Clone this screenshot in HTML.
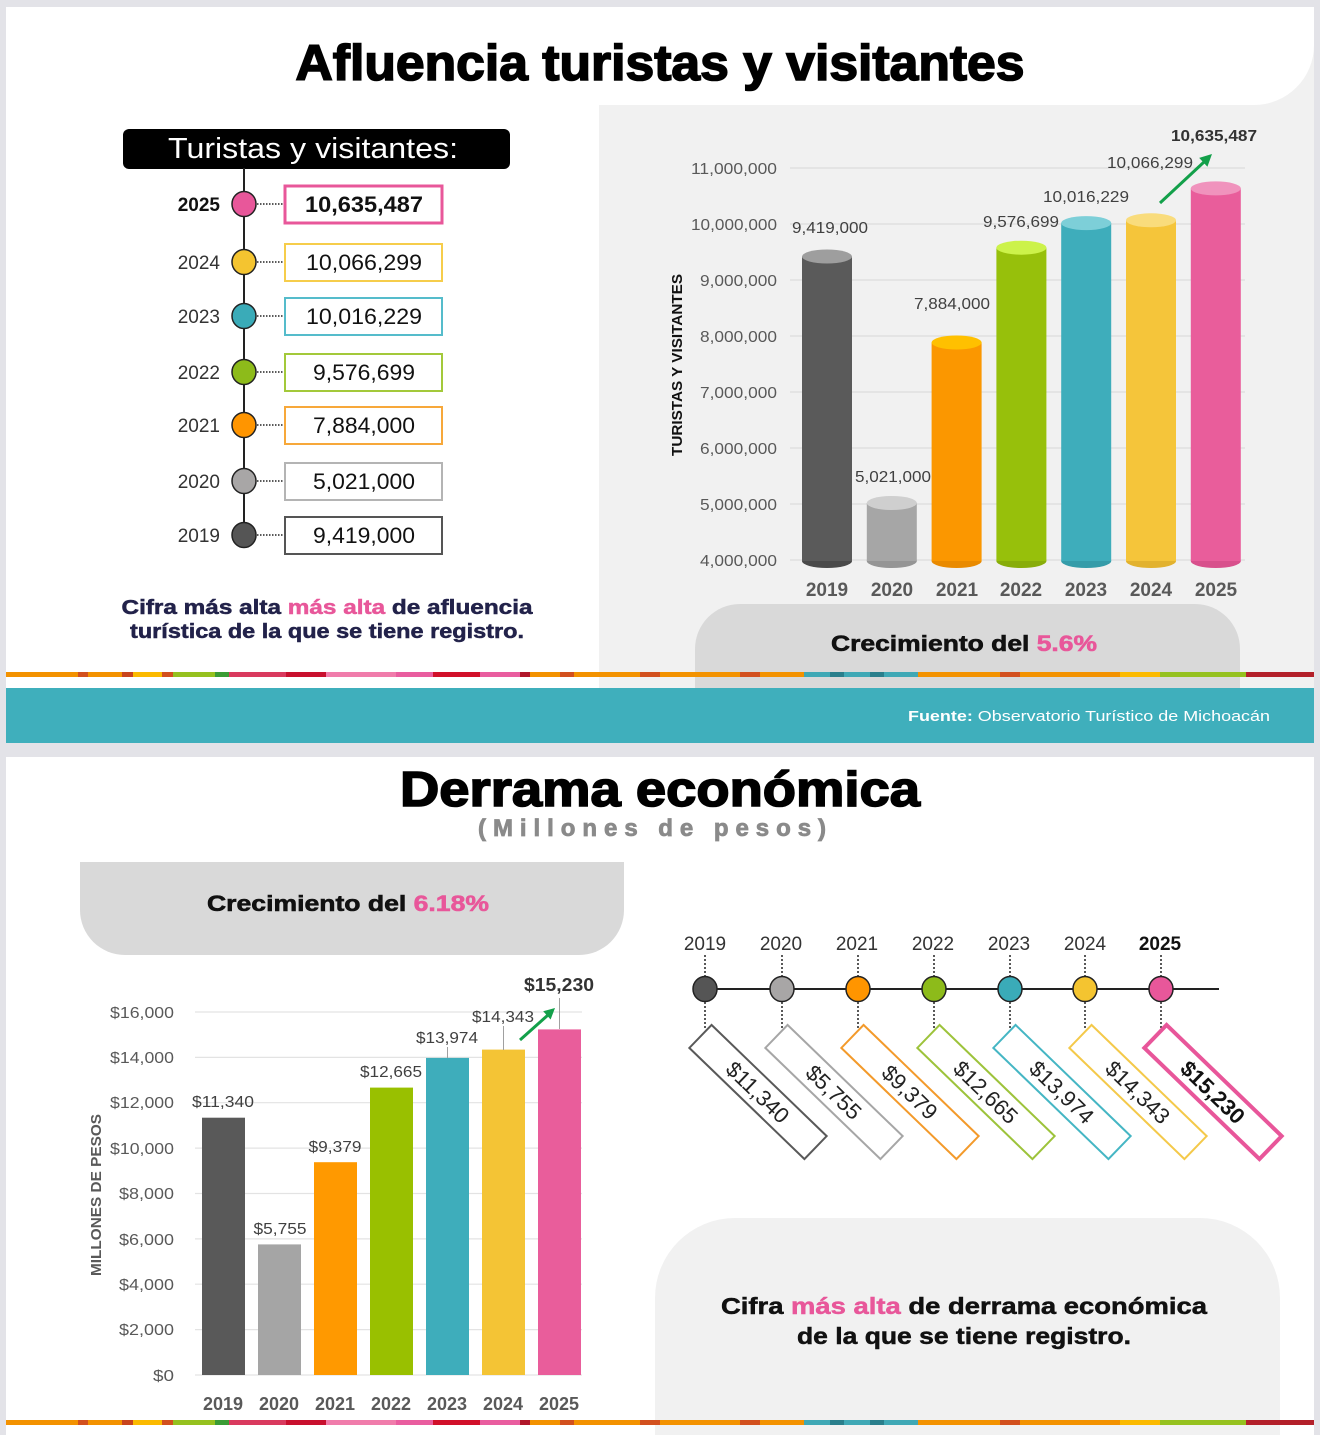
<!DOCTYPE html>
<html><head><meta charset="utf-8">
<style>
html,body{margin:0;padding:0;background:#e3e3e8;}
svg{display:block;}
text{font-family:"Liberation Sans",sans-serif;}
</style></head>
<body>
<svg width="1320" height="1435" viewBox="0 0 1320 1435" xmlns="http://www.w3.org/2000/svg">
<defs>
  <g id="stripe">
    <rect x="6" y="0" width="1308" height="5" fill="#f39200"/>
    <rect x="78" y="0" width="10" height="5" fill="#d2501e"/>
    <rect x="122" y="0" width="11" height="5" fill="#c8441d"/>
    <rect x="133" y="0" width="29" height="5" fill="#fbba00"/>
    <rect x="162" y="0" width="11" height="5" fill="#d2501e"/>
    <rect x="173" y="0" width="42" height="5" fill="#95c11f"/>
    <rect x="215" y="0" width="14" height="5" fill="#3a9b35"/>
    <rect x="229" y="0" width="57" height="5" fill="#d93a5e"/>
    <rect x="286" y="0" width="40" height="5" fill="#c8102e"/>
    <rect x="326" y="0" width="70" height="5" fill="#f07cab"/>
    <rect x="396" y="0" width="37" height="5" fill="#e95d9f"/>
    <rect x="433" y="0" width="47" height="5" fill="#d1102a"/>
    <rect x="480" y="0" width="40" height="5" fill="#e95d9f"/>
    <rect x="520" y="0" width="10" height="5" fill="#b0172a"/>
    <rect x="560" y="0" width="14" height="5" fill="#d2501e"/>
    <rect x="640" y="0" width="20" height="5" fill="#d2501e"/>
    <rect x="740" y="0" width="20" height="5" fill="#d2501e"/>
    <rect x="804" y="0" width="114" height="5" fill="#3fa8b5"/>
    <rect x="830" y="0" width="14" height="5" fill="#2a7f8c"/>
    <rect x="870" y="0" width="14" height="5" fill="#2a7f8c"/>
    <rect x="1000" y="0" width="20" height="5" fill="#d2501e"/>
    <rect x="1120" y="0" width="40" height="5" fill="#fbba00"/>
    <rect x="1160" y="0" width="86" height="5" fill="#95c11f"/>
    <rect x="1246" y="0" width="68" height="5" fill="#b3202a"/>
  </g>
</defs>

<!-- ===== TOP CARD ===== -->
<rect x="6" y="7" width="1308" height="736" fill="#ffffff"/>
<rect x="599" y="40" width="715" height="648" fill="#f1f1f1"/>
<path d="M599 7 H1314 V45 A60 60 0 0 1 1254 105 H599 Z" fill="#ffffff"/>

<text x="660" y="80" text-anchor="middle" font-size="50" font-weight="bold" fill="#000" stroke="#000" stroke-width="1.6" textLength="729" lengthAdjust="spacingAndGlyphs">Afluencia turistas y visitantes</text>

<!-- Left timeline -->
<rect x="123" y="129" width="387" height="40" rx="6" fill="#000"/>
<text x="313" y="158" text-anchor="middle" font-size="29" fill="#fff" textLength="290" lengthAdjust="spacingAndGlyphs">Turistas y visitantes:</text>
<line x1="244" y1="168" x2="244" y2="535" stroke="#222" stroke-width="2"/>

<g stroke="#222" stroke-width="1.5" stroke-dasharray="1.5 1.5">
  <line x1="257" y1="204" x2="284" y2="204"/>
  <line x1="257" y1="262" x2="284" y2="262"/>
  <line x1="257" y1="316" x2="284" y2="316"/>
  <line x1="257" y1="372" x2="284" y2="372"/>
  <line x1="257" y1="425" x2="284" y2="425"/>
  <line x1="257" y1="481" x2="284" y2="481"/>
  <line x1="257" y1="535" x2="284" y2="535"/>
</g>
<g stroke="#222" stroke-width="1.5">
  <ellipse cx="244" cy="204" rx="12" ry="12.5" fill="#e8579a"/>
  <ellipse cx="244" cy="262" rx="12" ry="12.5" fill="#f4c430"/>
  <ellipse cx="244" cy="316" rx="12" ry="12.5" fill="#3aabb8"/>
  <ellipse cx="244" cy="372" rx="12" ry="12.5" fill="#8dbb1a"/>
  <ellipse cx="244" cy="425" rx="12" ry="12.5" fill="#ff9500"/>
  <ellipse cx="244" cy="481" rx="12" ry="12.5" fill="#a8a6a6"/>
  <ellipse cx="244" cy="535" rx="12" ry="12.5" fill="#555555"/>
</g>
<g font-size="19" fill="#333" text-anchor="end">
  <text x="220" y="211" font-weight="bold" fill="#111">2025</text>
  <text x="220" y="269">2024</text>
  <text x="220" y="323">2023</text>
  <text x="220" y="379">2022</text>
  <text x="220" y="432">2021</text>
  <text x="220" y="488">2020</text>
  <text x="220" y="542">2019</text>
</g>
<g fill="#fff">
  <rect x="285" y="186" width="157" height="37" stroke="#e8579a" stroke-width="3"/>
  <rect x="285" y="244" width="157" height="37" stroke="#f6cd4b" stroke-width="2"/>
  <rect x="285" y="298" width="157" height="37" stroke="#55bccb" stroke-width="2"/>
  <rect x="285" y="354" width="157" height="37" stroke="#a3c93a" stroke-width="2"/>
  <rect x="285" y="407" width="157" height="37" stroke="#f7a83a" stroke-width="2"/>
  <rect x="285" y="463" width="157" height="37" stroke="#b4b4b4" stroke-width="2"/>
  <rect x="285" y="517" width="157" height="37" stroke="#555555" stroke-width="2"/>
</g>
<g font-size="22" fill="#111" text-anchor="middle">
  <text x="364" y="212" font-weight="bold" textLength="118" lengthAdjust="spacingAndGlyphs">10,635,487</text>
  <text x="364" y="270" textLength="116" lengthAdjust="spacingAndGlyphs">10,066,299</text>
  <text x="364" y="324" textLength="116" lengthAdjust="spacingAndGlyphs">10,016,229</text>
  <text x="364" y="380" textLength="102" lengthAdjust="spacingAndGlyphs">9,576,699</text>
  <text x="364" y="433" textLength="102" lengthAdjust="spacingAndGlyphs">7,884,000</text>
  <text x="364" y="489" textLength="102" lengthAdjust="spacingAndGlyphs">5,021,000</text>
  <text x="364" y="543" textLength="102" lengthAdjust="spacingAndGlyphs">9,419,000</text>
</g>
<g stroke-width="0.5">
<text x="327" y="614" text-anchor="middle" font-size="20" font-weight="bold" fill="#22224a" stroke="#22224a" textLength="411" lengthAdjust="spacingAndGlyphs">Cifra más alta <tspan fill="#e8579a" stroke="#e8579a">más alta</tspan> de afluencia</text>
<text x="327" y="638" text-anchor="middle" font-size="20" font-weight="bold" fill="#22224a" stroke="#22224a" textLength="394" lengthAdjust="spacingAndGlyphs">turística de la que se tiene registro.</text>
</g>

<!-- Top chart -->
<g stroke="#dcdcdc" stroke-width="1.2">
  <line x1="790" y1="168" x2="1245" y2="168"/>
  <line x1="790" y1="224" x2="1245" y2="224"/>
  <line x1="790" y1="280" x2="1245" y2="280"/>
  <line x1="790" y1="336" x2="1245" y2="336"/>
  <line x1="790" y1="392" x2="1245" y2="392"/>
  <line x1="790" y1="448" x2="1245" y2="448"/>
  <line x1="790" y1="504" x2="1245" y2="504"/>
  <line x1="790" y1="560" x2="1245" y2="560"/>
</g>
<g font-size="16" fill="#595959" text-anchor="end">
  <text x="777" y="174" textLength="86" lengthAdjust="spacingAndGlyphs">11,000,000</text>
  <text x="777" y="230" textLength="86" lengthAdjust="spacingAndGlyphs">10,000,000</text>
  <text x="777" y="286" textLength="77" lengthAdjust="spacingAndGlyphs">9,000,000</text>
  <text x="777" y="342" textLength="77" lengthAdjust="spacingAndGlyphs">8,000,000</text>
  <text x="777" y="398" textLength="77" lengthAdjust="spacingAndGlyphs">7,000,000</text>
  <text x="777" y="454" textLength="77" lengthAdjust="spacingAndGlyphs">6,000,000</text>
  <text x="777" y="510" textLength="77" lengthAdjust="spacingAndGlyphs">5,000,000</text>
  <text x="777" y="566" textLength="77" lengthAdjust="spacingAndGlyphs">4,000,000</text>
</g>
<text transform="translate(682,365) rotate(-90)" text-anchor="middle" font-size="15" font-weight="bold" fill="#111" textLength="182" lengthAdjust="spacingAndGlyphs">TURISTAS Y VISITANTES</text>

<!-- cylinders -->
<g>
  <ellipse cx="827" cy="561" rx="25" ry="7" fill="#4a4a4a"/>
  <rect x="802" y="256.5" width="50" height="304.5" fill="#5a5a5a"/>
  <ellipse cx="827" cy="256.5" rx="25" ry="7" fill="#9e9e9e"/>

  <ellipse cx="891.8" cy="561" rx="25" ry="7" fill="#959595"/>
  <rect x="866.8" y="503" width="50" height="58" fill="#a6a6a6"/>
  <ellipse cx="891.8" cy="503" rx="25" ry="7" fill="#cfcfcf"/>

  <ellipse cx="956.6" cy="561" rx="25" ry="7" fill="#e98a00"/>
  <rect x="931.6" y="342.5" width="50" height="218.5" fill="#fb9700"/>
  <ellipse cx="956.6" cy="342.5" rx="25" ry="7" fill="#ffc000"/>

  <ellipse cx="1021.4" cy="561" rx="25" ry="7" fill="#88ad0a"/>
  <rect x="996.4" y="247.7" width="50" height="313.3" fill="#97c00b"/>
  <ellipse cx="1021.4" cy="247.7" rx="25" ry="7" fill="#ccf24a"/>

  <ellipse cx="1086.2" cy="561" rx="25" ry="7" fill="#359ca9"/>
  <rect x="1061.2" y="223.1" width="50" height="337.9" fill="#3eadbb"/>
  <ellipse cx="1086.2" cy="223.1" rx="25" ry="7" fill="#7dcfd8"/>

  <ellipse cx="1151" cy="561" rx="25" ry="7" fill="#e2b22f"/>
  <rect x="1126" y="220.3" width="50" height="340.7" fill="#f5c53a"/>
  <ellipse cx="1151" cy="220.3" rx="25" ry="7" fill="#f9dc7c"/>

  <ellipse cx="1215.8" cy="561" rx="25" ry="7" fill="#d8508c"/>
  <rect x="1190.8" y="188.4" width="50" height="372.6" fill="#e95d9b"/>
  <ellipse cx="1215.8" cy="188.4" rx="25" ry="7" fill="#f093bd"/>
</g>
<g font-size="16" fill="#404040" text-anchor="middle">
  <text x="830" y="233" textLength="76" lengthAdjust="spacingAndGlyphs">9,419,000</text>
  <text x="893" y="482" textLength="76" lengthAdjust="spacingAndGlyphs">5,021,000</text>
  <text x="952" y="309" textLength="76" lengthAdjust="spacingAndGlyphs">7,884,000</text>
  <text x="1021" y="227" textLength="76" lengthAdjust="spacingAndGlyphs">9,576,699</text>
  <text x="1086" y="202" textLength="86" lengthAdjust="spacingAndGlyphs">10,016,229</text>
  <text x="1150" y="168" textLength="86" lengthAdjust="spacingAndGlyphs">10,066,299</text>
  <text x="1214" y="141" font-weight="bold" fill="#333" textLength="86" lengthAdjust="spacingAndGlyphs">10,635,487</text>
</g>
<line x1="1160" y1="203" x2="1204" y2="162" stroke="#13a04a" stroke-width="3"/>
<polygon points="1212,154 1207.4,166.7 1199.2,157.9" fill="#13a04a"/>
<g font-size="19" font-weight="bold" fill="#595959" text-anchor="middle">
  <text x="827" y="596">2019</text>
  <text x="892" y="596">2020</text>
  <text x="957" y="596">2021</text>
  <text x="1021" y="596">2022</text>
  <text x="1086" y="596">2023</text>
  <text x="1151" y="596">2024</text>
  <text x="1216" y="596">2025</text>
</g>

<path d="M695 690 V649 A45 45 0 0 1 740 604 H1195 A45 45 0 0 1 1240 649 V690 Z" fill="#d9d9d9"/>
<text x="964" y="651" text-anchor="middle" font-size="22" font-weight="bold" fill="#111" stroke="#111" stroke-width="0.6" textLength="266" lengthAdjust="spacingAndGlyphs">Crecimiento del <tspan fill="#e8579a" stroke="#e8579a">5.6%</tspan></text>

<!-- stripe + teal band -->
<use href="#stripe" transform="translate(0,672)"/>
<rect x="6" y="677" width="593" height="11" fill="#ffffff"/>
<rect x="6" y="688" width="1308" height="55" fill="#3fafbc"/>
<text x="1270" y="721" text-anchor="end" font-size="15" fill="#ffffff" textLength="362" lengthAdjust="spacingAndGlyphs"><tspan font-weight="bold">Fuente:</tspan> Observatorio Turístico de Michoacán</text>

<!-- ===== BOTTOM CARD ===== -->
<rect x="6" y="757" width="1308" height="678" fill="#ffffff"/>
<text x="660" y="806" text-anchor="middle" font-size="49" font-weight="bold" fill="#000" stroke="#000" stroke-width="1.6" textLength="520" lengthAdjust="spacingAndGlyphs">Derrama económica</text>
<text x="652" y="836" text-anchor="middle" font-size="24" font-weight="bold" fill="#8a8a8a" stroke="#8a8a8a" stroke-width="0.8" textLength="348" lengthAdjust="spacing">(Millones de pesos)</text>

<path d="M80 862 H624 V910 A45 45 0 0 1 579 955 H125 A45 45 0 0 1 80 910 Z" fill="#d9d9d9"/>
<text x="348" y="911" text-anchor="middle" font-size="22" font-weight="bold" fill="#111" stroke="#111" stroke-width="0.6" textLength="282" lengthAdjust="spacingAndGlyphs">Crecimiento del <tspan fill="#e8579a" stroke="#e8579a">6.18%</tspan></text>

<!-- bottom chart -->
<g stroke="#e3e3e3" stroke-width="1.2">
  <line x1="195" y1="1012" x2="582" y2="1012"/>
  <line x1="195" y1="1057.4" x2="582" y2="1057.4"/>
  <line x1="195" y1="1102.7" x2="582" y2="1102.7"/>
  <line x1="195" y1="1148.1" x2="582" y2="1148.1"/>
  <line x1="195" y1="1193.5" x2="582" y2="1193.5"/>
  <line x1="195" y1="1238.9" x2="582" y2="1238.9"/>
  <line x1="195" y1="1284.2" x2="582" y2="1284.2"/>
  <line x1="195" y1="1329.6" x2="582" y2="1329.6"/>
  <line x1="195" y1="1375" x2="582" y2="1375"/>
</g>
<g font-size="16" fill="#595959" text-anchor="end">
  <text x="174" y="1018" textLength="64" lengthAdjust="spacingAndGlyphs">$16,000</text>
  <text x="174" y="1063" textLength="64" lengthAdjust="spacingAndGlyphs">$14,000</text>
  <text x="174" y="1108" textLength="64" lengthAdjust="spacingAndGlyphs">$12,000</text>
  <text x="174" y="1154" textLength="64" lengthAdjust="spacingAndGlyphs">$10,000</text>
  <text x="174" y="1199" textLength="55" lengthAdjust="spacingAndGlyphs">$8,000</text>
  <text x="174" y="1245" textLength="55" lengthAdjust="spacingAndGlyphs">$6,000</text>
  <text x="174" y="1290" textLength="55" lengthAdjust="spacingAndGlyphs">$4,000</text>
  <text x="174" y="1335" textLength="55" lengthAdjust="spacingAndGlyphs">$2,000</text>
  <text x="174" y="1381" textLength="21" lengthAdjust="spacingAndGlyphs">$0</text>
</g>
<text transform="translate(101,1195) rotate(-90)" text-anchor="middle" font-size="15" font-weight="bold" fill="#595959" textLength="162" lengthAdjust="spacingAndGlyphs">MILLONES DE PESOS</text>
<g>
  <rect x="202" y="1117.7" width="43" height="257.3" fill="#595959"/>
  <rect x="258" y="1244.4" width="43" height="130.6" fill="#a5a5a5"/>
  <rect x="314" y="1162.2" width="43" height="212.8" fill="#ff9900"/>
  <rect x="370" y="1087.6" width="43" height="287.4" fill="#99c000"/>
  <rect x="426" y="1057.9" width="43" height="317.1" fill="#3eadbb"/>
  <rect x="482" y="1049.6" width="43" height="325.4" fill="#f4c435"/>
  <rect x="538" y="1029.4" width="43" height="345.6" fill="#e95d9b"/>
</g>
<g stroke="#a0a0a0" stroke-width="1">
  <line x1="447.5" y1="1047" x2="447.5" y2="1058"/>
  <line x1="503.5" y1="1026" x2="503.5" y2="1050"/>
  <line x1="559.5" y1="998" x2="559.5" y2="1029"/>
</g>
<g font-size="16" fill="#404040" text-anchor="middle">
  <text x="223" y="1107" textLength="62" lengthAdjust="spacingAndGlyphs">$11,340</text>
  <text x="280" y="1234" textLength="53" lengthAdjust="spacingAndGlyphs">$5,755</text>
  <text x="335" y="1152" textLength="53" lengthAdjust="spacingAndGlyphs">$9,379</text>
  <text x="391" y="1077" textLength="62" lengthAdjust="spacingAndGlyphs">$12,665</text>
  <text x="447" y="1043" textLength="62" lengthAdjust="spacingAndGlyphs">$13,974</text>
  <text x="503" y="1022" textLength="62" lengthAdjust="spacingAndGlyphs">$14,343</text>
  <text x="559" y="991" font-size="18" font-weight="bold" fill="#333" textLength="70" lengthAdjust="spacingAndGlyphs">$15,230</text>
</g>
<line x1="520" y1="1040" x2="548" y2="1015" stroke="#13a04a" stroke-width="3"/>
<polygon points="555,1008 550.6,1019.5 543.2,1011.3" fill="#13a04a"/>
<g font-size="18" font-weight="bold" fill="#595959" text-anchor="middle">
  <text x="223" y="1410">2019</text>
  <text x="279" y="1410">2020</text>
  <text x="335" y="1410">2021</text>
  <text x="391" y="1410">2022</text>
  <text x="447" y="1410">2023</text>
  <text x="503" y="1410">2024</text>
  <text x="559" y="1410">2025</text>
</g>

<!-- bottom right gray box -->
<path d="M655 1435 V1298 A80 80 0 0 1 735 1218 H1200 A80 80 0 0 1 1280 1298 V1435 Z" fill="#f1f1f1"/>
<text x="964" y="1314" text-anchor="middle" font-size="23" font-weight="bold" fill="#111" stroke="#111" stroke-width="0.5" textLength="486" lengthAdjust="spacingAndGlyphs">Cifra <tspan fill="#e8579a" stroke="#e8579a">más alta</tspan> de derrama económica</text>
<text x="964" y="1344" text-anchor="middle" font-size="23" font-weight="bold" fill="#111" stroke="#111" stroke-width="0.5" textLength="334" lengthAdjust="spacingAndGlyphs">de la que se tiene registro.</text>

<!-- bottom-right timeline -->
<line x1="693" y1="989" x2="1219" y2="989" stroke="#222" stroke-width="2"/>
<g stroke="#222" stroke-width="1.5" stroke-dasharray="2 2">
  <line x1="705" y1="955" x2="705" y2="977"/><line x1="705" y1="1002" x2="705" y2="1030"/>
  <line x1="782" y1="955" x2="782" y2="977"/><line x1="782" y1="1002" x2="782" y2="1030"/>
  <line x1="858" y1="955" x2="858" y2="977"/><line x1="858" y1="1002" x2="858" y2="1030"/>
  <line x1="934" y1="955" x2="934" y2="977"/><line x1="934" y1="1002" x2="934" y2="1030"/>
  <line x1="1010" y1="955" x2="1010" y2="977"/><line x1="1010" y1="1002" x2="1010" y2="1030"/>
  <line x1="1085" y1="955" x2="1085" y2="977"/><line x1="1085" y1="1002" x2="1085" y2="1030"/>
  <line x1="1161" y1="955" x2="1161" y2="977"/><line x1="1161" y1="1002" x2="1161" y2="1030"/>
</g>
<g stroke="#222" stroke-width="1.5">
  <ellipse cx="705" cy="989" rx="12" ry="12.5" fill="#555555"/>
  <ellipse cx="782" cy="989" rx="12" ry="12.5" fill="#a8a6a6"/>
  <ellipse cx="858" cy="989" rx="12" ry="12.5" fill="#ff9500"/>
  <ellipse cx="934" cy="989" rx="12" ry="12.5" fill="#8dbb1a"/>
  <ellipse cx="1010" cy="989" rx="12" ry="12.5" fill="#3aabb8"/>
  <ellipse cx="1085" cy="989" rx="12" ry="12.5" fill="#f4c430"/>
  <ellipse cx="1161" cy="989" rx="12" ry="12.5" fill="#e8579a"/>
</g>
<g font-size="19" fill="#333" text-anchor="middle">
  <text x="705" y="950">2019</text>
  <text x="781" y="950">2020</text>
  <text x="857" y="950">2021</text>
  <text x="933" y="950">2022</text>
  <text x="1009" y="950">2023</text>
  <text x="1085" y="950">2024</text>
  <text x="1160" y="950" font-weight="bold" fill="#111">2025</text>
</g>
<g font-size="22" fill="#222" text-anchor="middle">
  <g transform="translate(758,1092) rotate(44)"><rect x="-80" y="-16" width="160" height="32" fill="#fff" stroke="#595959" stroke-width="2"/><text x="0" y="8">$11,340</text></g>
  <g transform="translate(834,1092) rotate(44)"><rect x="-80" y="-16" width="160" height="32" fill="#fff" stroke="#a6a6a6" stroke-width="2"/><text x="0" y="8">$5,755</text></g>
  <g transform="translate(910,1092) rotate(44)"><rect x="-80" y="-16" width="160" height="32" fill="#fff" stroke="#f39a2b" stroke-width="2"/><text x="0" y="8">$9,379</text></g>
  <g transform="translate(986,1092) rotate(44)"><rect x="-80" y="-16" width="160" height="32" fill="#fff" stroke="#9dc33b" stroke-width="2"/><text x="0" y="8">$12,665</text></g>
  <g transform="translate(1062,1092) rotate(44)"><rect x="-80" y="-16" width="160" height="32" fill="#fff" stroke="#45b6c4" stroke-width="2"/><text x="0" y="8">$13,974</text></g>
  <g transform="translate(1138,1092) rotate(44)"><rect x="-80" y="-16" width="160" height="32" fill="#fff" stroke="#f4c94a" stroke-width="2"/><text x="0" y="8">$14,343</text></g>
  <g transform="translate(1213,1092) rotate(44)"><rect x="-80" y="-16" width="160" height="32" fill="#fff" stroke="#e8569a" stroke-width="4"/><text x="0" y="8" font-weight="bold" fill="#111">$15,230</text></g>
</g>

<use href="#stripe" transform="translate(0,1420)"/>
</svg>
</body></html>
